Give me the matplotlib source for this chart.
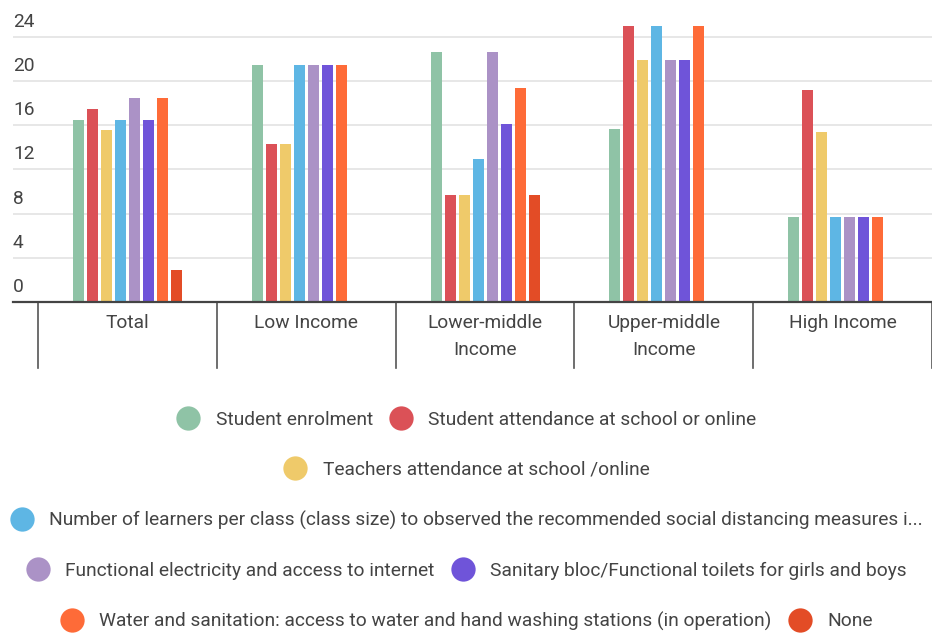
import numpy as np
import matplotlib
matplotlib.use("Agg")
import matplotlib.pyplot as plt
from matplotlib.lines import Line2D
from matplotlib.transforms import blended_transform_factory

plt.rcParams['font.family'] = ['Roboto', 'DejaVu Sans']

# groups and series (percent of respondents)
groups = ["Total", "Low Income", "Lower-middle\nIncome", "Upper-middle\nIncome", "High Income"]
series_names = [
    "Student enrolment",
    "Student attendance at school or online",
    "Teachers attendance at school /online",
    "Number of learners per class (class size) to observed the recommended social distancing measures i...",
    "Functional electricity and access to internet",
    "Sanitary bloc/Functional toilets for girls and boys",
    "Water and sanitation: access to water and hand washing stations (in operation)",
    "None",
]
enrolment = [16.50, 21.43, 22.58, 15.63, 7.69]
attendance = [17.48, 14.29, 9.68, 25.00, 19.23]
teachers = [15.53, 14.29, 9.68, 21.88, 15.38]
class_size = [16.50, 21.43, 12.90, 25.00, 7.69]
electricity = [18.45, 21.43, 22.58, 21.88, 7.69]
toilets = [16.50, 21.43, 16.13, 21.88, 7.69]
water = [18.45, 21.43, 19.35, 25.00, 7.69]
none = [2.91, 0, 9.68, 0, 0]
yticks = [0, 4, 8, 12, 16, 20, 24]

series = [enrolment, attendance, teachers, class_size, electricity, toilets, water, none]
colors = ["#8fc3a6", "#db5157", "#efca6a", "#5eb6e4", "#ab92c6", "#6f54d9", "#fe6b38", "#e34c26"]

text_col = "#444444"
fs = 13.8
fig = plt.figure(figsize=(9.32, 6.33), dpi=100)
# axes from x=13px to right edge, baseline at y=302px
ax = fig.add_axes([13 / 932, 1 - 302 / 633, 919 / 932, 302 / 633])

group_px = 178.8
slot = 14 / group_px
bar_w = 11 / group_px
x = np.arange(len(groups))
for i, (vals, c) in enumerate(zip(series, colors)):
    ax.bar(x + (i - 3.5) * slot, vals, width=bar_w, color=c, linewidth=0, zorder=3)

ax.set_xlim(-0.5 - 25 / group_px, len(groups) - 0.5)
ax.set_ylim(0, 302 / 11.05)

# gridlines and y labels sitting above them
for v in yticks[1:]:
    ax.axhline(v, color="#e3e3e3", linewidth=1.2, zorder=1)
for v in yticks:
    ax.annotate(str(v), xy=(0, v), xycoords=("axes fraction", "data"),
                xytext=(0, 6), textcoords="offset pixels",
                ha="left", va="bottom", fontsize=fs, color=text_col)

for s in ["top", "right", "left"]:
    ax.spines[s].set_visible(False)
ax.spines["bottom"].set_color(text_col)
ax.spines["bottom"].set_linewidth(1.6)
ax.spines["bottom"].set_zorder(4)
ax.set_xticks([])
ax.set_yticks([])

# category separators and labels below the axis
trans = blended_transform_factory(ax.transData, ax.transAxes)
for b in np.arange(len(groups) + 1) - 0.5:
    ax.plot([b, b], [0, -66 / 302], transform=trans, color="#555555",
            linewidth=1.2, clip_on=False)
for xi, g in zip(x, groups):
    ax.text(xi, -12 / 302, g, transform=trans, ha="center", va="top",
            fontsize=fs, color=text_col, linespacing=1.62)

# legend rows, each centred
rows = [[0, 1], [2], [3], [4, 5], [6, 7]]
row_y = [420, 470, 520, 571, 621]
for idx, yy in zip(rows, row_y):
    handles = [Line2D([], [], marker="o", linestyle="", markersize=17.5,
                      markerfacecolor=colors[k], markeredgewidth=0) for k in idx]
    leg = fig.legend(handles, [series_names[k] for k in idx], loc="center",
                     bbox_to_anchor=(0.5, 1 - yy / 633), ncol=len(idx),
                     frameon=False, fontsize=fs, handlelength=1.3,
                     handletextpad=0.8, columnspacing=0.8,
                     borderpad=0, borderaxespad=0)
    for t in leg.get_texts():
        t.set_color(text_col)

fig.savefig("out.png", dpi=100)
